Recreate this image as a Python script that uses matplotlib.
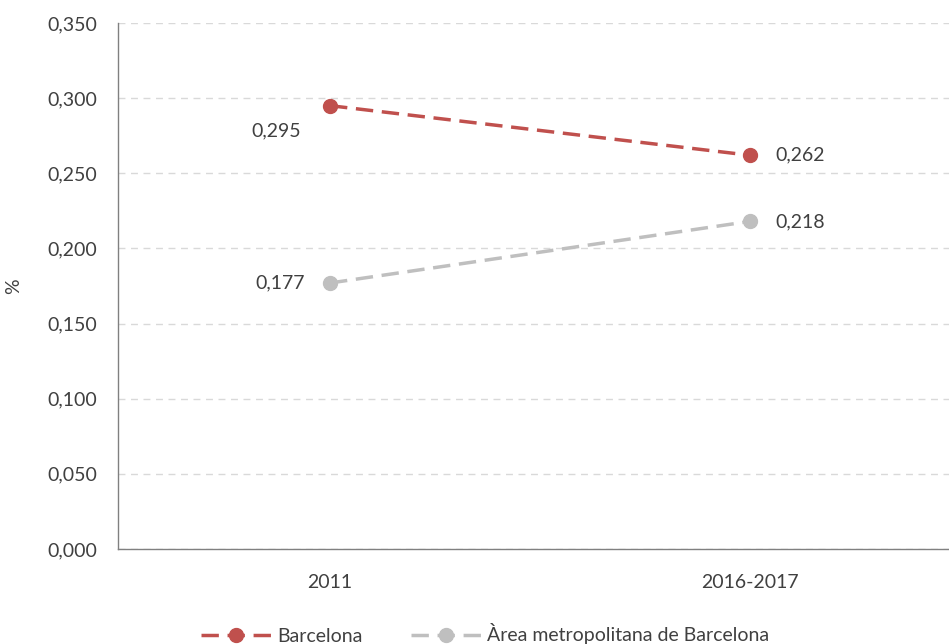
import matplotlib
matplotlib.use("Agg")
import matplotlib.pyplot as plt
from matplotlib.ticker import FuncFormatter

plt.rcParams['font.family'] = ['Lato', 'DejaVu Sans']

categories = ["2011", "2016-2017"]
barcelona = [0.295, 0.262]
amb = [0.177, 0.218]
labels = ["Barcelona", "Àrea metropolitana de Barcelona"]
yticks = [0.0, 0.05, 0.10, 0.15, 0.20, 0.25, 0.30, 0.35]

red = "#C0504D"
grey = "#BFBFBF"
txt = "#404040"
fs = 14

fig = plt.figure(figsize=(9.49, 6.44), dpi=100)
ax = fig.add_axes([118/949, 1-549/644, 1-118/949, (549-23)/644])
x = list(range(len(categories)))
ax.plot(x, barcelona, color=red, ls=(0, (5, 2.5)), lw=2.5, marker='o', ms=10, label=labels[0])
ax.plot(x, amb, color=grey, ls=(0, (5, 2.5)), lw=2.5, marker='o', ms=10, label=labels[1])

ax.set_xlim(-0.505, 1.474)
ax.set_ylim(0, 0.35)
ax.set_yticks(yticks)
ax.yaxis.set_major_formatter(FuncFormatter(lambda v, p: f"{v:.3f}".replace('.', ',')))
ax.set_xticks(x)
ax.set_xticklabels(categories)
ax.tick_params(axis='both', labelsize=fs, colors=txt, length=0)
ax.tick_params(axis='y', pad=15)
ax.tick_params(axis='x', pad=18)
ax.set_ylabel("%", fontsize=fs, color=txt, labelpad=18)
ax.grid(axis='y', color='#D9D9D9', ls=(0, (5, 4)), lw=1)
ax.set_axisbelow(True)
for s in ['top', 'right']:
    ax.spines[s].set_visible(False)
for s in ['left', 'bottom']:
    ax.spines[s].set_color('#808080')
    ax.spines[s].set_linewidth(1)

fmt = lambda v: f"{v:.3f}".replace('.', ',')
ax.annotate(fmt(barcelona[0]), (x[0], barcelona[0]), xytext=(-39, -18), textcoords='offset points',
            ha='center', va='center', fontsize=fs, color=txt)
ax.annotate(fmt(barcelona[1]), (x[1], barcelona[1]), xytext=(36, 0), textcoords='offset points',
            ha='center', va='center', fontsize=fs, color=txt)
ax.annotate(fmt(amb[0]), (x[0], amb[0]), xytext=(-36, 0), textcoords='offset points',
            ha='center', va='center', fontsize=fs, color=txt)
ax.annotate(fmt(amb[1]), (x[1], amb[1]), xytext=(36, 0), textcoords='offset points',
            ha='center', va='center', fontsize=fs, color=txt)

leg = fig.legend(loc='center', bbox_to_anchor=(485/949, 1-634/644), ncol=2, frameon=False,
                 fontsize=fs, handlelength=3.6, columnspacing=2.5, handletextpad=0.3)
for t in leg.get_texts():
    t.set_color(txt)

fig.savefig("out.png", dpi=100)
